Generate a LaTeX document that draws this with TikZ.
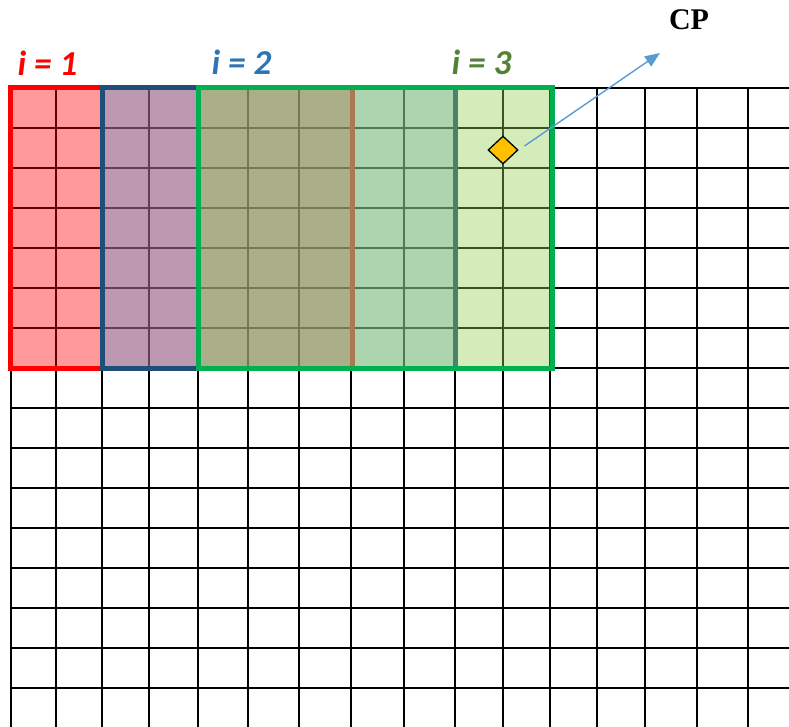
\documentclass[tikz,border=0pt]{standalone}
\usepackage{fontspec}
\usepackage{tikz}
\usetikzlibrary{arrows.meta,positioning,shapes.geometric}
\newfontfamily\calib{Carlito}
\newfontfamily\tms{Liberation Serif}
\definecolor{winred}{RGB}{255,0,0}
\definecolor{winblue}{RGB}{91,155,213}
\definecolor{edgeblue}{RGB}{31,78,121}
\definecolor{wingreen}{RGB}{146,208,80}
\definecolor{edgegreen}{RGB}{0,176,80}
\definecolor{txtblue}{RGB}{46,117,182}
\definecolor{txtgreen}{RGB}{84,130,53}
\definecolor{cpgold}{RGB}{255,192,0}

\begin{document}
\begin{tikzpicture}[x=1pt,y=-1pt,
  gridline/.style={line width=2.5pt,black},
  window/.style={line width=5pt,fill opacity=0.4},
  ilabel/.style={font=\calib\bfseries\itshape\fontsize{35}{40}\selectfont,inner sep=0pt}]
  \useasboundingbox (0,0) rectangle (789,727);
  % grid
  \foreach \x in {11,56,102,149,198,248,299,351,404,455,503,550,597,645,697,748} {
     \draw[gridline] (\x,88) -- (\x,727);
  }
  \foreach \y in {88,128,168,208,248,288,328,368,408,448,488,528,568,608,648,688} {
     \draw[gridline] (11,\y) -- (789,\y);
  }
  % windows
  \draw[window,draw=winred,fill=winred] (10.5,88) rectangle (352,368);
  \draw[window,draw=edgeblue,fill=winblue] (102,88) rectangle (455,368);
  \draw[window,draw=edgegreen,fill=wingreen] (198,88) rectangle (552,368);
  % labels
  \node[ilabel,text=winred] (lab1) at (47.5,63) {i = 1};
  \node[ilabel,text=txtblue] (lab2) at (241.5,62) {i = 2};
  \node[ilabel,text=txtgreen] (lab3) at (481.5,62) {i = 3};
  % centre point
  \node[diamond,draw=black,fill=cpgold,line width=1.3pt,inner sep=0pt,
        minimum width=30pt,minimum height=28pt] (ctr) at (503,150) {};
  \node[font=\tms\bfseries\fontsize{30}{34}\selectfont,inner sep=0pt] (cp) at (689,20) {CP};
  \coordinate (tip) at (660,53);
  \draw[winblue,line width=1.4pt,shorten <=7pt,-{Triangle[length=15pt,width=12pt]}] (ctr.east) -- (tip);
\end{tikzpicture}
\end{document}
